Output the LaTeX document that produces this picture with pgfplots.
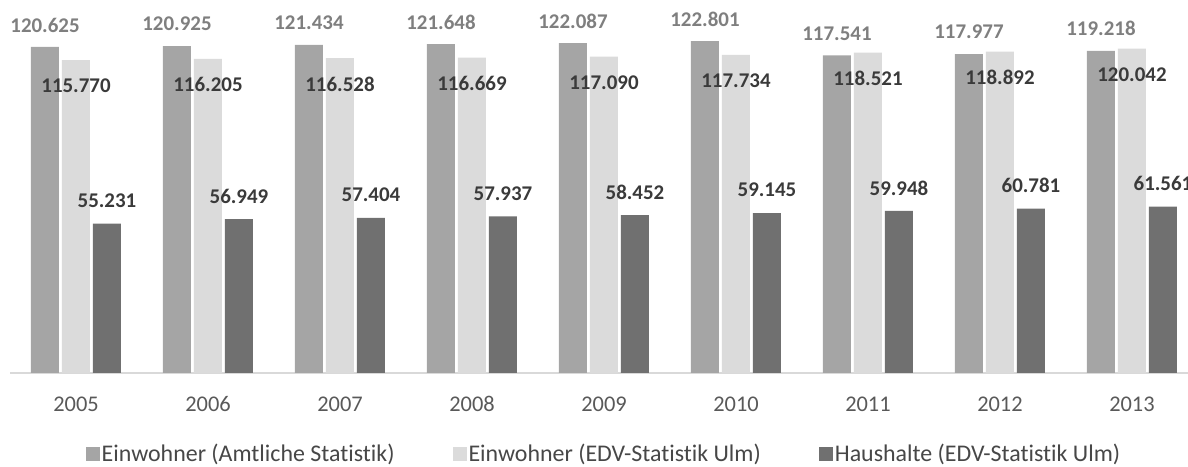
\documentclass[border=0pt]{standalone}
\usepackage{pgfplots}
\pgfplotsset{compat=1.18}
\usepackage{fontspec}
\setmainfont{Carlito}[Ligatures=NoCommon]

\definecolor{amtlich}{HTML}{A5A5A5}
\definecolor{edv}{HTML}{DBDBDB}
\definecolor{haushalt}{HTML}{707070}
\definecolor{graylabel}{HTML}{7F7F7F}
\definecolor{darklabel}{HTML}{3A3A3A}
\definecolor{ticktext}{HTML}{595959}
\definecolor{baseline}{HTML}{D9D9D9}

\begin{document}
\begin{tikzpicture}
\begin{axis}[
    at={(10bp,94bp)}, anchor=south west,
    scale only axis,
    width=1188bp, height=373bp,
    xmin=-0.5, xmax=8.5,
    ymin=0, ymax=138,
    ybar=3bp, bar width=28bp,
    axis y line=none,
    axis x line*=bottom,
    x axis line style={draw=baseline, line width=1.2bp, -},
    xtick={0,...,8},
    xticklabels={2005,2006,2007,2008,2009,2010,2011,2012,2013},
    major tick length=0pt,
    xticklabel style={anchor=center, yshift=-31bp, text=ticktext,
        font=\fontsize{22.5}{26}\selectfont},
    clip=false,
    nodes near coords,
    /pgf/number format/.cd, fixed, fixed zerofill, precision=3, assume math mode=true,
    /pgfplots/.cd,
    every node near coord/.append style={anchor=center,
        font=\fontsize{21}{25}\selectfont\bfseries},
    legend columns=3,
    legend style={at={(0.5,0)}, anchor=center, yshift=-81bp, draw=none,
        font=\fontsize{24}{28}\selectfont, text=ticktext!80!black,
        /tikz/every even column/.append style={column sep=56bp},
        inner sep=0pt},
    legend image code/.code={\fill[#1] (-2bp,-7bp) rectangle (12bp,7bp);},
]
\addplot[fill=amtlich, draw=none,
    every node near coord/.append style={text=graylabel, yshift=22bp}]
    coordinates {(0,120.625) (1,120.925) (2,121.434) (3,121.648) (4,122.087)
                 (5,122.801) (6,117.541) (7,117.977) (8,119.218)};
\addplot[fill=edv, draw=none,
    every node near coord/.append style={text=darklabel, yshift=-26bp}]
    coordinates {(0,115.770) (1,116.205) (2,116.528) (3,116.669) (4,117.090)
                 (5,117.734) (6,118.521) (7,118.892) (8,120.042)};
\addplot[fill=haushalt, draw=none,
    every node near coord/.append style={text=darklabel, yshift=23bp}]
    coordinates {(0,55.231) (1,56.949) (2,57.404) (3,57.937) (4,58.452)
                 (5,59.145) (6,59.948) (7,60.781) (8,61.561)};
\legend{Einwohner (Amtliche Statistik), Einwohner (EDV-Statistik Ulm), Haushalte (EDV-Statistik Ulm)}
\end{axis}
\pgfresetboundingbox
\path[use as bounding box] (0,0) rectangle (1188bp,467bp);
\end{tikzpicture}
\end{document}
